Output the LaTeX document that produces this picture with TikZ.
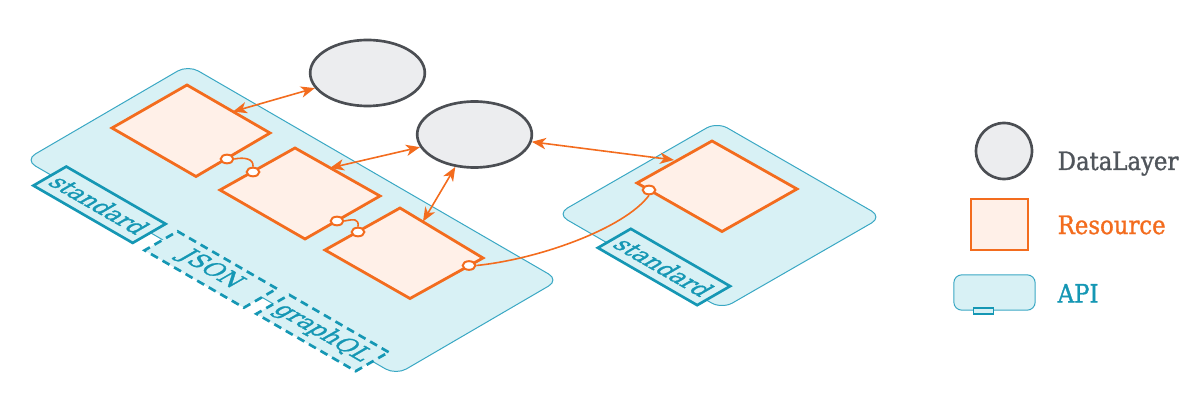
\documentclass[tikz,border=0pt]{standalone}
\usepackage{fontspec}
\setmainfont{DejaVu Serif}
\newfontfamily\medserif{DejaVu Serif}[FakeBold=1.2, FakeStretch=0.9]
\usetikzlibrary{arrows.meta,shapes.geometric}
\definecolor{platefill}{HTML}{D8F1F5}
\definecolor{platedraw}{HTML}{3AA8C4}
\definecolor{apiblue}{HTML}{1597B4}
\definecolor{resfill}{HTML}{FFF0E8}
\definecolor{resorange}{HTML}{F36C1E}
\definecolor{dlfill}{HTML}{ECEDEF}
\definecolor{dldraw}{HTML}{4B4E53}
\definecolor{dltext}{HTML}{50555B}
\begin{document}
\begin{tikzpicture}[x=0.75pt,y=-0.75pt,
 apiplate/.style={fill=platefill, draw=platedraw, line width=0.75pt, rounded corners=9pt},
 resshape/.style={fill=resfill, draw=resorange, line width=2.1pt, line join=miter},
 dlnode/.style={ellipse, fill=dlfill, draw=dldraw, line width=2pt, inner sep=0pt, minimum width=86pt, minimum height=49.5pt},
 portnode/.style={ellipse, fill=white, draw=resorange, line width=1.5pt, minimum width=9.5pt, minimum height=6.5pt, inner sep=0pt},
 linkline/.style={draw=resorange, line width=1.2pt},
 bothway/.style={linkline, {Stealth[length=10.5pt,width=8.5pt,inset=3pt]}-{Stealth[length=10.5pt,width=8.5pt,inset=3pt]}},
 fmtbox/.style={transform shape, fill=platefill, draw=apiblue, line width=2pt, text=apiblue, minimum width=86pt, minimum height=28.5pt, inner sep=0pt, font=\medserif\fontsize{19}{21}\selectfont},
 fmtdash/.style={fmtbox, dash pattern=on 6pt off 4pt},
 legtext/.style={anchor=base west, font=\medserif\fontsize{19}{22}\selectfont}
]
\useasboundingbox (0,0) rectangle (1200,406);

% API plates
\draw[apiplate] (188,65) -- (559,280) -- (396,375) -- (25,160) -- cycle;
\draw[apiplate] (717,122) -- (882,217) -- (722,309) -- (557,214) -- cycle;

% format boxes
\begin{scope}[shift={(99.5,204.75)}, cm={0.866,-0.5,0.866,0.5,(0,0)}]
\node[fmtbox] (std1) at (0,0) {standard};
\end{scope}
\begin{scope}[shift={(210.75,269.5)}, cm={0.866,-0.5,0.866,0.5,(0,0)}]
\node[fmtdash] (json) at (0,0) {JSON};
\end{scope}
\begin{scope}[shift={(322.5,333)}, cm={0.866,-0.5,0.866,0.5,(0,0)}]
\node[fmtdash] (gql) at (0,0) {graphQL};
\end{scope}
\begin{scope}[shift={(664,267)}, cm={0.866,-0.5,0.866,0.5,(0,0)}]
\node[fmtbox] (std2) at (0,0) {standard};
\end{scope}

% resources
\draw[resshape] (187,85) -- (270,133) -- (196,176.5) -- (112,128) -- cycle;
\draw[resshape] (295,148) -- (380,196) -- (305,239) -- (220,190) -- cycle;
\draw[resshape] (400,208) -- (483,258) -- (410,298.5) -- (325,250) -- cycle;
\draw[resshape] (712,141) -- (797,189) -- (722,231.5) -- (637,183) -- cycle;

\coordinate (r1a) at (233,111.6);
\coordinate (r2a) at (330,168);
\coordinate (r3a) at (423,221.5);
\coordinate (r4a) at (674,160);

% ports
\node[portnode] (p1) at (227,159) {};
\node[portnode] (p2) at (253,172) {};
\node[portnode] (p3) at (337,221) {};
\node[portnode] (p4) at (358,232) {};
\node[portnode] (p5) at (469,265.5) {};
\node[portnode] (p6) at (649,190) {};
\draw[linkline] (p1.east) .. controls +(10,-2) and +(1,-8) .. (p2.north);
\draw[linkline] (p3.east) .. controls +(10,-2) and +(1,-8) .. (p4.north);
\draw[linkline] (p5.east) .. controls (540,259) and (625,228) .. (p6.south);

% data layers
\node[dlnode] (E1) at (367.5,73) {};
\node[dlnode] (E2) at (474.5,134.5) {};

\draw[bothway] (r1a) -- (E1);
\draw[bothway] (r2a) -- (E2);
\draw[bothway] (r3a) -- (E2);
\draw[bothway] (r4a) -- (E2);

% legend
\node[circle, fill=dlfill, draw=dldraw, line width=2pt, minimum size=42pt, inner sep=0pt] (lgE) at (1004,151) {};
\node[draw=resorange, fill=resfill, line width=2.1pt, minimum width=42.75pt, minimum height=38.25pt, inner sep=0pt] (lgR) at (999.5,224.5) {};
\node[fill=platefill, draw=platedraw, line width=0.75pt, rounded corners=6pt, minimum width=61pt, minimum height=26.5pt, inner sep=0pt] (lgA) at (994.5,292.5) {};
\node[fill=platefill, draw=apiblue, line width=1.3pt, minimum width=15pt, minimum height=4.5pt, inner sep=0pt] (lgAport) at (983.5,311) {};
\node[legtext, text=dltext] (tE) at (1053,170) {DataLayer};
\node[legtext, text=resorange] (tR) at (1053,234) {Resource};
\node[legtext, text=apiblue] (tA) at (1053,302.5) {API};
\end{tikzpicture}
\end{document}
